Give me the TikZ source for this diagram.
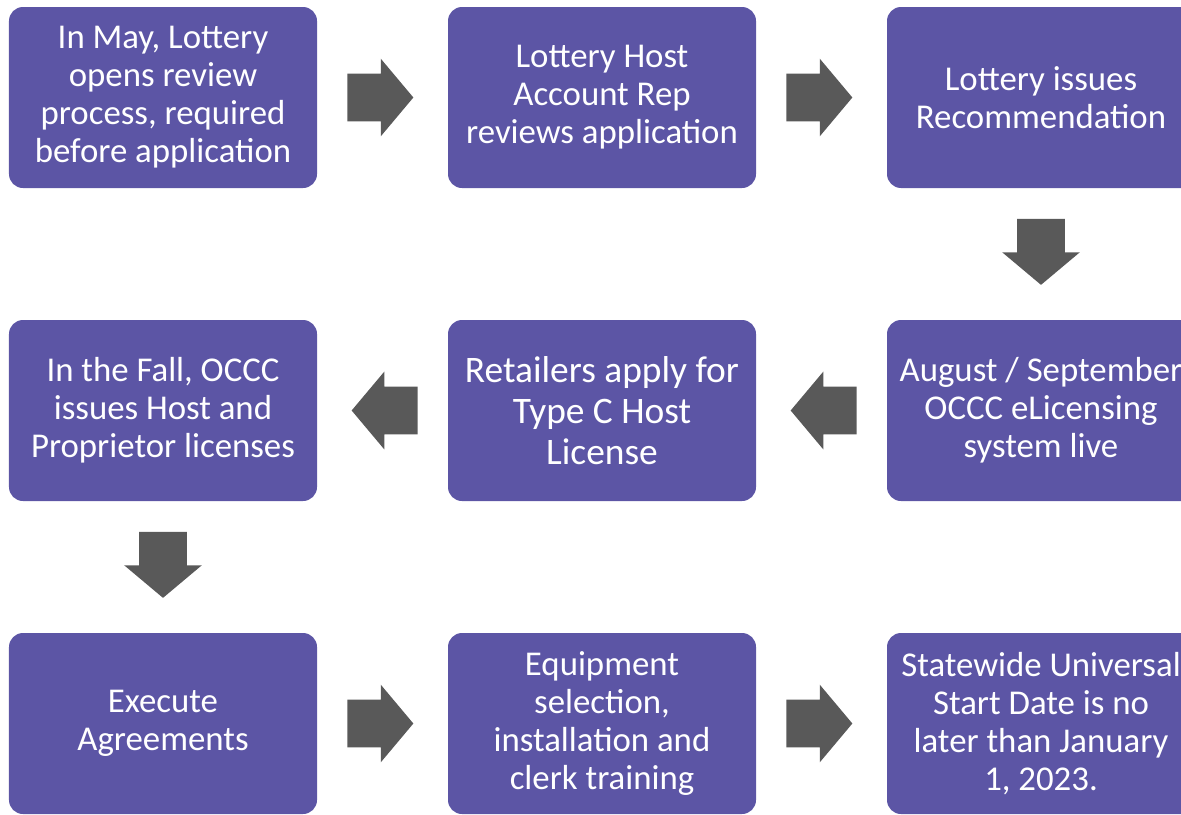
\documentclass[tikz,border=0pt]{standalone}
\usepackage{fontspec}
\setmainfont{Carlito}
\usetikzlibrary{shapes.arrows,calc}
\definecolor{stepfill}{HTML}{5C55A5}
\definecolor{arrowgray}{HTML}{595959}
\tikzset{
	stepbox/.style={fill=stepfill,rounded corners=0.28cm,minimum width=6.16cm,minimum height=3.62cm,
		text=white,align=center,inner sep=0pt,font=\fontsize{19.8}{21.6}\selectfont},
	bigtext/.style={font=\fontsize{21.3}{23.2}\selectfont},
	blockarrow/.style={single arrow,fill=arrowgray,draw=none,inner xsep=0pt,inner ysep=0.47cm,minimum width=1.54cm,
		minimum height=1.32cm,single arrow head extend=0.3cm,single arrow tip angle=100,anchor=tail},
}
\begin{document}
\begin{tikzpicture}
			\useasboundingbox (0,0) rectangle (23.62,-16.28);
			% first row
			\node[stepbox] (may) at (3.26,-1.95){In May, Lottery\\opens review\\process, required\\before application};
			\node[stepbox] (rep) at (12.04,-1.95){Lottery Host\\Account Rep\\reviews application};
			\node[stepbox] (rec) at (20.82,-1.95){Lottery issues\\Recommendation};
			% second row
			\node[stepbox] (fall) at (3.26,-8.21){In the Fall, OCCC\\issues Host and\\Proprietor licenses};
			\node[stepbox,bigtext] (apply) at (12.04,-8.21){Retailers apply for\\Type C Host\\License};
			\node[stepbox] (live) at (20.82,-8.21){August / September\\OCCC eLicensing\\system live};
			% third row
			\node[stepbox] (exec) at (3.26,-14.47){Execute\\Agreements};
			\node[stepbox] (equip) at (12.04,-14.47){Equipment\\selection,\\installation and\\clerk training};
			\node[stepbox] (start) at (20.82,-14.47){Statewide Universal\\Start Date is no\\later than January\\1, 2023.};
			% arrows, tail 0.71cm before the middle of the gap
			\foreach\a/\b/\r in {may/rep/0,rep/rec/0,exec/equip/0,equip/start/0,live/apply/180,apply/fall/180,rec/live/-90,fall/exec/-90}{
				\node[blockarrow,rotate=\r] (ar\a) at ($($(\a)!0.5!(\b)$)!0.71cm!(\a)$){};
			}
		\end{tikzpicture}
\end{document}
